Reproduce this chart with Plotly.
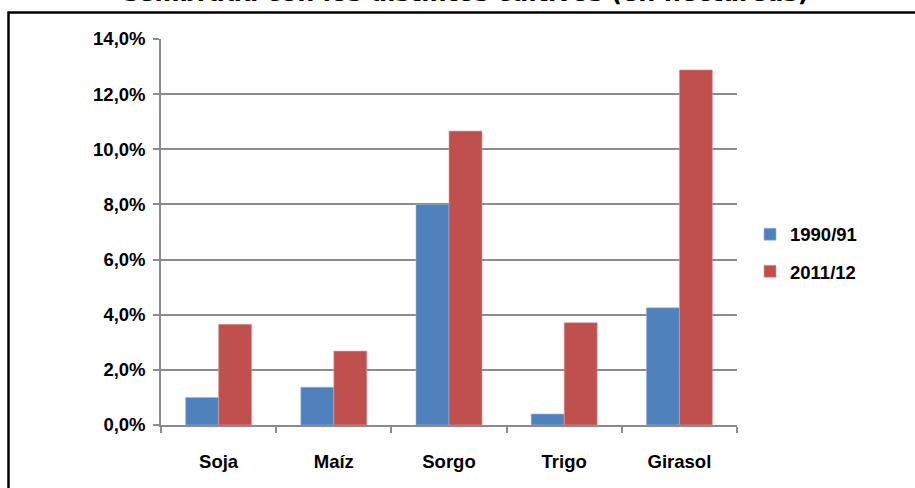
import plotly.graph_objects as go

categories = ["Soja", "Maíz", "Sorgo", "Trigo", "Girasol"]
series_1990 = [1.00, 1.37, 8.00, 0.40, 4.25]
series_2011 = [3.65, 2.68, 10.66, 3.71, 12.88]
series_names = ["1990/91", "2011/12"]
y_ticks = [0, 2, 4, 6, 8, 10, 12, 14]
y_tick_labels = ["0,0%", "2,0%", "4,0%", "6,0%", "8,0%", "10,0%", "12,0%", "14,0%"]
title_text = "sembrada con los distintos cultivos (en hectáreas)"

W, H = 915, 488
# plot area in page pixels
L, R, T, B = 161, 737, 38.5, 425
pw, ph = R - L, B - T

def px(x):
    return (x - L) / pw

def py(y):
    return (B - y) / ph

FS = 18.5
font_bold = dict(family="Liberation Sans, Arial, sans-serif", size=FS, color="black", weight="bold")

fig = go.Figure()
fig.add_trace(go.Bar(x=categories, y=series_1990, name=series_names[0],
                     marker=dict(color="#4F81BD", line=dict(color="#9DB7DA", width=0.6)),
                     legendgroup="a"))
fig.add_trace(go.Bar(x=categories, y=series_2011, name=series_names[1],
                     marker=dict(color="#C0504D", line=dict(color="#DC9C9A", width=0.6)),
                     legendgroup="b"))

fig.update_layout(
    width=W, height=H,
    margin=dict(l=L, r=W - R, t=T, b=H - B, pad=0),
    paper_bgcolor="white", plot_bgcolor="white",
    barmode="group", bargap=0.427, bargroupgap=0,
    font=font_bold,
    showlegend=True,
    legend=dict(x=px(750), y=py(253), xanchor="left", yanchor="middle",
                font=font_bold,
                itemwidth=30, tracegroupgap=10, traceorder="grouped",
                bgcolor="rgba(0,0,0,0)"),
    xaxis=dict(showline=True, linecolor="#8C8C8C", linewidth=1.5,
               ticks="outside", tickson="boundaries", ticklen=6, tickcolor="#8C8C8C", tickwidth=1.5,
               tickfont=font_bold, ticklabelstandoff=19, showgrid=False),
    yaxis=dict(range=[0, 14], tickvals=y_ticks, ticktext=y_tick_labels,
               showline=True, linecolor="#8C8C8C", linewidth=1.5,
               ticks="outside", ticklen=6, tickcolor="#8C8C8C", tickwidth=1.5,
               showgrid=True, gridcolor="#8C8C8C", gridwidth=1.5,
               tickfont=font_bold, ticklabelstandoff=4, zeroline=False),
    shapes=[dict(type="rect", xref="paper", yref="paper",
                 x0=px(8.5), x1=px(W + 20), y0=py(12), y1=py(H + 20),
                 line=dict(color="black", width=2.5), fillcolor="rgba(0,0,0,0)", layer="above")],
    annotations=[dict(text=title_text, xref="paper", yref="paper",
                      x=px(466.5), y=py(8), xanchor="center", yanchor="bottom",
                      showarrow=False,
                      font=dict(family="DejaVu Sans, Verdana, sans-serif", size=24, color="black", weight="bold"))],
)

fig.write_html("out.html", config={"displayModeBar": False},
               post_script="document.body.style.margin='0px';")
